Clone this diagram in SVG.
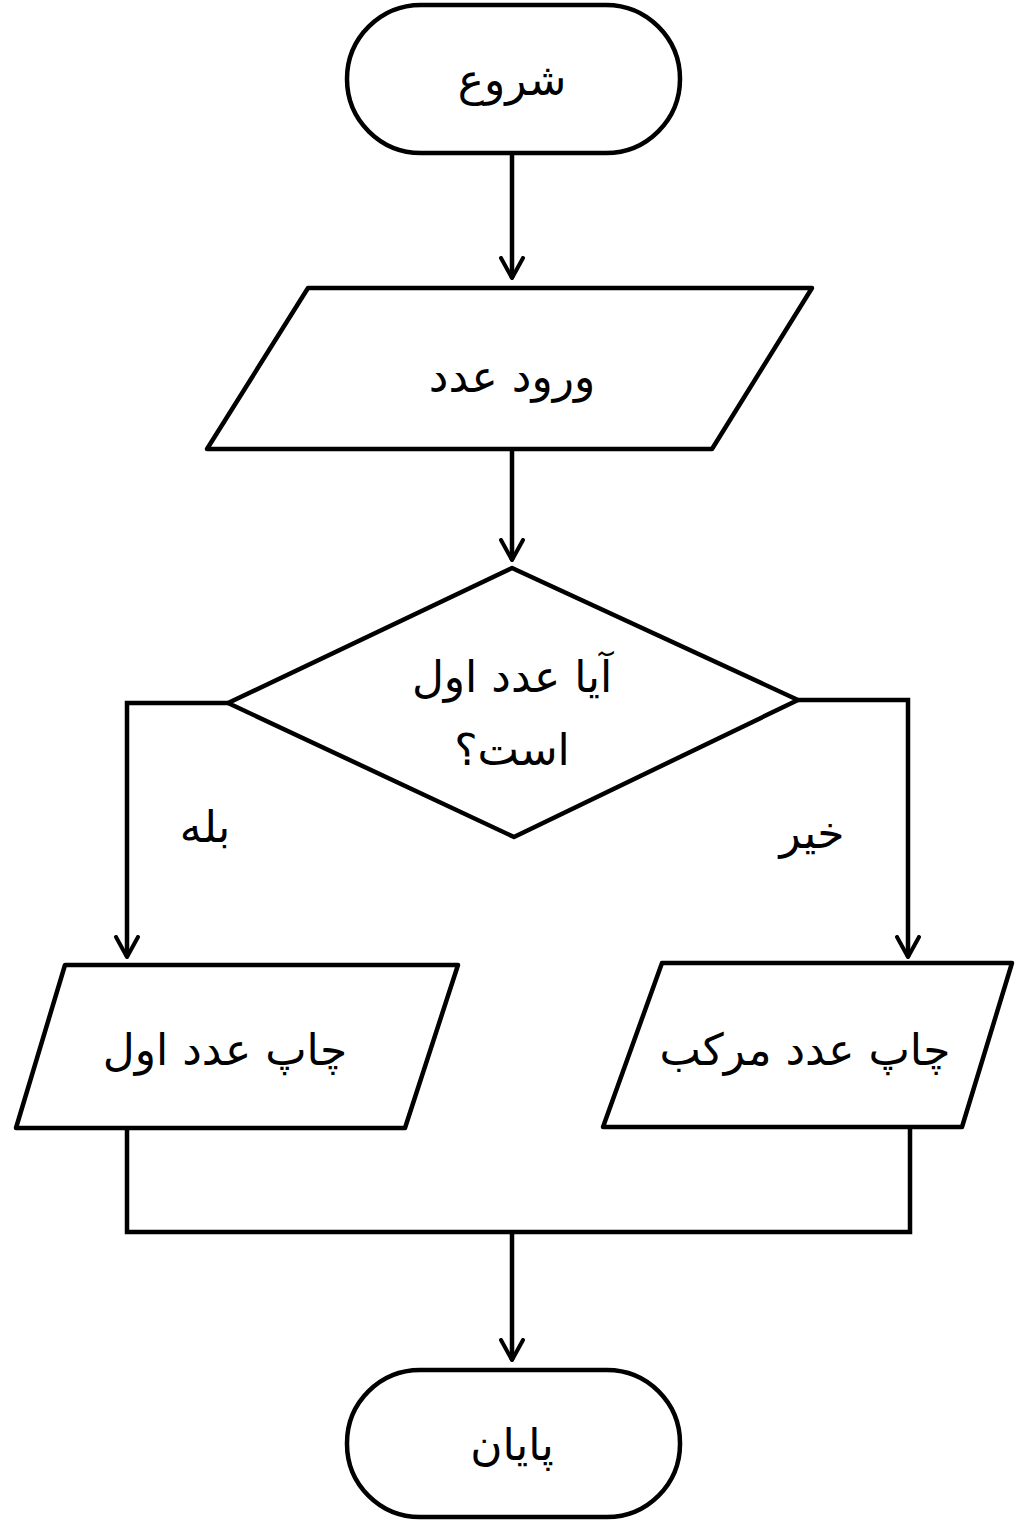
<svg xmlns="http://www.w3.org/2000/svg" width="1024" height="1536" viewBox="0 0 1024 1536">
<defs>
<marker id="arr" viewBox="0 0 24 28" refX="22" refY="14" markerWidth="24" markerHeight="28" markerUnits="userSpaceOnUse" orient="auto">
<path d="M2,3 L22,14 L2,25" fill="none" stroke="#000" stroke-width="4" stroke-linecap="round" stroke-linejoin="round"/>
</marker>
<style>
.s{fill:#fff;stroke:#000;stroke-width:4.5;stroke-linejoin:round}
.c{fill:none;stroke:#000;stroke-width:4.5}
.t{font-family:"DejaVu Sans","Noto Sans",sans-serif;font-size:44px;fill:#000;text-anchor:middle;direction:rtl}
</style>
</defs>
<rect width="1024" height="1536" fill="#fff"/>
<g id="connectors">
<line class="c" x1="512" y1="153" x2="512" y2="278" marker-end="url(#arr)"/>
<line class="c" x1="512" y1="449" x2="512" y2="560" marker-end="url(#arr)"/>
<polyline class="c" points="228,703 127,703 127,957" marker-end="url(#arr)"/>
<polyline class="c" points="798,700 908,700 908,957" marker-end="url(#arr)"/>
<polyline class="c" points="127,1128 127,1232 910,1232 910,1127"/>
<line class="c" x1="512" y1="1232" x2="512" y2="1360" marker-end="url(#arr)"/>
<text class="t" x="205" y="842">بله</text>
<text class="t" x="812" y="848">خیر</text>
</g>
<g id="start">
<rect class="s" x="347" y="5" width="333" height="148" rx="74"/>
<text class="t" x="512" y="95">شروع</text>
</g>
<g id="input">
<polygon class="s" points="308,288 812,288 712,449 207,449"/>
<text class="t" x="512" y="392">ورود عدد</text>
</g>
<g id="decision">
<polygon class="s" points="512,568 798,700 514,837 228,703"/>
<text class="t" x="512" y="692">آیا عدد اول</text>
<text class="t" x="512" y="765">است؟</text>
</g>
<g id="prime">
<polygon class="s" points="65,965 458,965 405,1128 16,1128"/>
<text class="t" x="225" y="1065">چاپ عدد اول</text>
</g>
<g id="composite">
<polygon class="s" points="662,963 1012,963 962,1127 603,1127"/>
<text class="t" x="805" y="1065">چاپ عدد مرکب</text>
</g>
<g id="end">
<rect class="s" x="347" y="1370" width="333" height="147" rx="73"/>
<text class="t" x="512" y="1460">پایان</text>
</g>
</svg>
